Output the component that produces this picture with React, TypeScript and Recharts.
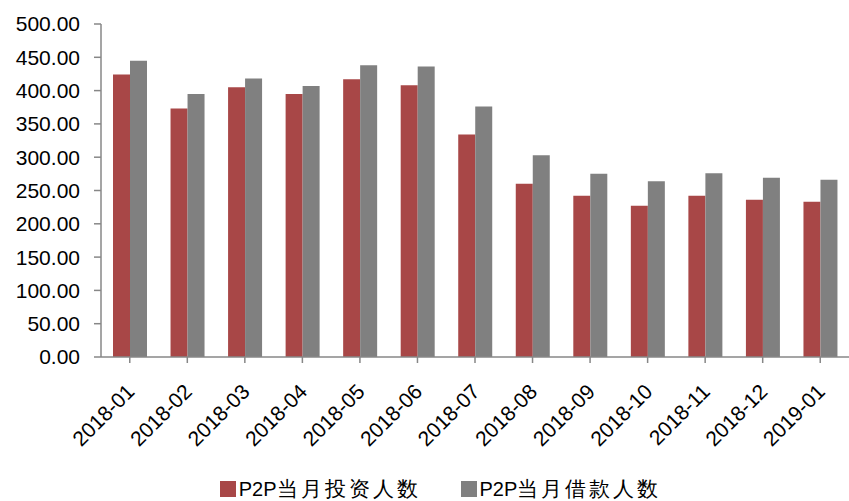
import React from "react";
import { BarChart, Bar, XAxis, YAxis, Legend } from "recharts";

const months = [
    "2018-01", "2018-02", "2018-03", "2018-04", "2018-05", "2018-06", "2018-07",
    "2018-08", "2018-09", "2018-10", "2018-11", "2018-12", "2019-01",
];

// 当月投资人数 / 当月借款人数 (万人)
const investors = [424, 373, 405, 395, 417, 408, 334, 260, 242, 227, 242, 236, 233];
const borrowers = [445, 395, 418, 407, 438, 436, 376, 303, 275, 264, 276, 269, 266];

const yTicks = [0, 50, 100, 150, 200, 250, 300, 350, 400, 450, 500];

const SERIES = [
    { key: "investors", label: "当月投资人数", color: "#A84747" },
    { key: "borrowers", label: "当月借款人数", color: "#808080" },
];

const FONT = "'Liberation Sans', Arial, sans-serif";
const AXIS_COLOR = "#878787";

const data = months.map((m, i) => ({
    month: m,
    investors: investors[i],
    borrowers: borrowers[i],
}));

function RotatedTick(props: any) {
    const { x, y, payload } = props;
    return (
        <g transform={`translate(${x - 1},${y + 21})`}>
            <text
                transform="rotate(-45)"
                textAnchor="end"
                dy={10}
                fontSize={21}
                fontFamily={FONT}
                fill="#000"
            >
                {payload.value}
            </text>
        </g>
    );
}

function LegendContent() {
    return (
        <div
            style={{
                display: "flex",
                justifyContent: "center",
                gap: 40,
                paddingLeft: 32,
                paddingTop: 20,
                fontFamily: FONT,
                fontSize: 20,
                color: "#000",
                lineHeight: "24px",
            }}
        >
            {SERIES.map((s) => (
                <div key={s.key} style={{ display: "flex", alignItems: "center" }}>
                    <span
                        style={{
                            width: 16,
                            height: 16,
                            background: s.color,
                            marginRight: 3,
                            display: "inline-block",
                        }}
                    />
                    <span>P2P</span>
                    <span style={{ fontSize: 21, letterSpacing: 3 }}>{s.label}</span>
                </div>
            ))}
        </div>
    );
}

export default function App() {
    return (
        <div style={{ position: "absolute", left: 0, top: 0, background: "#fff" }}>
            <BarChart
                width={849}
                height={501}
                data={data}
                margin={{ top: 24, right: 0, bottom: 0, left: 0 }}
                barGap={0}
                barSize={17}
            >
                <XAxis
                    dataKey="month"
                    height={100}
                    interval={0}
                    stroke={AXIS_COLOR}
                    strokeWidth={1.5}
                    tickLine={{ stroke: AXIS_COLOR }}
                    tickSize={6}
                    tick={<RotatedTick />}
                />
                <YAxis
                    domain={[0, 500]}
                    ticks={yTicks}
                    width={101}
                    interval={0}
                    stroke={AXIS_COLOR}
                    strokeWidth={1.5}
                    tickSize={7}
                    tickMargin={14}
                    tickFormatter={(v: number) => v.toFixed(2)}
                    tick={{ fontSize: 21, fontFamily: FONT, fill: "#000" }}
                />
                <Legend verticalAlign="bottom" height={44} content={<LegendContent />} />
                {SERIES.map((s) => (
                    <Bar
                        key={s.key}
                        dataKey={s.key}
                        name={s.label}
                        fill={s.color}
                        isAnimationActive={false}
                    />
                ))}
            </BarChart>
        </div>
    );
}
